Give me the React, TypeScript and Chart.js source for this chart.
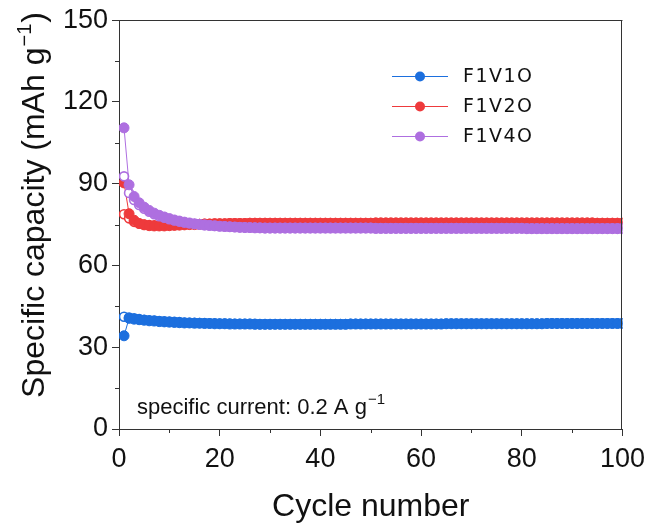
import React, { useEffect, useRef } from "react";
import { Chart, registerables } from "chart.js";

Chart.register(...registerables);

// ---------- DATA ----------
const cycles = Array.from({ length: 100 }, (_, i) => i + 1);

const seriesNames = ["F1V1O", "F1V2O", "F1V4O"];
const seriesColors = ["#1c6fde", "#ee3a3c", "#ae6fe0"];

// filled markers
const f1v1oFilled = [
  34.2, 40.6, 40.3, 40.1, 39.9, 39.7, 39.6, 39.4, 39.3, 39.2,
  39.1, 39.0, 38.9, 38.9, 38.8, 38.8, 38.7, 38.7, 38.6, 38.6,
  38.6, 38.5, 38.5, 38.5, 38.5, 38.5, 38.4, 38.4, 38.4, 38.4,
  38.4, 38.4, 38.4, 38.4, 38.4, 38.4, 38.4, 38.4, 38.4, 38.4,
  38.4, 38.4, 38.4, 38.4, 38.4, 38.5, 38.5, 38.5, 38.5, 38.5,
  38.5, 38.5, 38.5, 38.5, 38.5, 38.5, 38.5, 38.5, 38.5, 38.5,
  38.5, 38.5, 38.5, 38.5, 38.6, 38.6, 38.6, 38.6, 38.6, 38.6,
  38.6, 38.6, 38.6, 38.6, 38.6, 38.6, 38.6, 38.6, 38.6, 38.6,
  38.6, 38.6, 38.6, 38.6, 38.7, 38.7, 38.7, 38.7, 38.7, 38.7,
  38.7, 38.7, 38.7, 38.7, 38.7, 38.7, 38.7, 38.7, 38.7, 38.7,
];
const f1v2oFilled = [
  90.3, 79.0, 76.6, 75.4, 74.9, 74.6, 74.5, 74.5, 74.5, 74.6,
  74.7, 74.8, 74.9, 75.0, 75.0, 75.1, 75.2, 75.2, 75.3, 75.3,
  75.3, 75.4, 75.4, 75.4, 75.4, 75.5, 75.5, 75.5, 75.5, 75.5,
  75.5, 75.5, 75.5, 75.5, 75.5, 75.5, 75.5, 75.5, 75.5, 75.5,
  75.5, 75.5, 75.5, 75.5, 75.5, 75.5, 75.5, 75.5, 75.5, 75.5,
  75.6, 75.6, 75.6, 75.6, 75.6, 75.6, 75.6, 75.6, 75.6, 75.6,
  75.6, 75.6, 75.6, 75.6, 75.6, 75.6, 75.6, 75.6, 75.6, 75.6,
  75.6, 75.6, 75.6, 75.6, 75.6, 75.6, 75.6, 75.6, 75.6, 75.6,
  75.6, 75.6, 75.6, 75.6, 75.6, 75.6, 75.6, 75.6, 75.6, 75.6,
  75.6, 75.6, 75.6, 75.6, 75.5, 75.5, 75.5, 75.5, 75.5, 75.5,
];
const f1v4oFilled = [
  110.5, 89.6, 85.3, 83.0, 81.4, 80.2, 79.2, 78.4, 77.8, 77.2,
  76.7, 76.3, 75.9, 75.6, 75.3, 75.1, 74.9, 74.7, 74.6, 74.4,
  74.3, 74.2, 74.1, 74.0, 73.9, 73.9, 73.8, 73.8, 73.7, 73.7,
  73.7, 73.7, 73.7, 73.7, 73.7, 73.7, 73.7, 73.7, 73.7, 73.7,
  73.7, 73.7, 73.7, 73.7, 73.7, 73.7, 73.7, 73.7, 73.7, 73.7,
  73.6, 73.6, 73.6, 73.6, 73.6, 73.6, 73.6, 73.6, 73.6, 73.6,
  73.6, 73.6, 73.6, 73.6, 73.6, 73.6, 73.6, 73.6, 73.6, 73.6,
  73.6, 73.6, 73.6, 73.6, 73.6, 73.6, 73.6, 73.6, 73.6, 73.6,
  73.5, 73.5, 73.5, 73.5, 73.5, 73.5, 73.5, 73.5, 73.5, 73.5,
  73.5, 73.5, 73.5, 73.5, 73.5, 73.5, 73.5, 73.5, 73.5, 73.5,
];

// open markers
const f1v1oOpen = [
  41.2, 40.9, 40.6, 40.3, 40.1, 39.9, 39.8, 39.6, 39.5, 39.4,
  39.3, 39.2, 39.1, 39.0, 39.0, 38.9, 38.9, 38.8, 38.8, 38.7,
  38.7, 38.7, 38.6, 38.6, 38.6, 38.6, 38.6, 38.5, 38.5, 38.5,
  38.5, 38.5, 38.5, 38.5, 38.5, 38.5, 38.5, 38.5, 38.5, 38.5,
  38.5, 38.5, 38.5, 38.5, 38.5, 38.6, 38.6, 38.6, 38.6, 38.6,
  38.6, 38.6, 38.6, 38.6, 38.6, 38.6, 38.6, 38.6, 38.6, 38.6,
  38.6, 38.6, 38.6, 38.6, 38.7, 38.7, 38.7, 38.7, 38.7, 38.7,
  38.7, 38.7, 38.7, 38.7, 38.7, 38.7, 38.7, 38.7, 38.7, 38.7,
  38.7, 38.7, 38.7, 38.7, 38.8, 38.8, 38.8, 38.8, 38.8, 38.8,
  38.8, 38.8, 38.8, 38.8, 38.8, 38.8, 38.8, 38.8, 38.8, 38.8,
];
const f1v2oOpen = [
  78.8, 77.3, 76.0, 75.4, 75.0, 74.8, 74.7, 74.7, 74.7, 74.8,
  74.9, 75.0, 75.0, 75.1, 75.2, 75.2, 75.3, 75.3, 75.4, 75.4,
  75.4, 75.5, 75.5, 75.5, 75.5, 75.6, 75.6, 75.6, 75.6, 75.6,
  75.6, 75.6, 75.6, 75.6, 75.6, 75.6, 75.6, 75.6, 75.6, 75.6,
  75.6, 75.6, 75.6, 75.6, 75.6, 75.6, 75.6, 75.6, 75.6, 75.6,
  75.7, 75.7, 75.7, 75.7, 75.7, 75.7, 75.7, 75.7, 75.7, 75.7,
  75.7, 75.7, 75.7, 75.7, 75.7, 75.7, 75.7, 75.7, 75.7, 75.7,
  75.7, 75.7, 75.7, 75.7, 75.7, 75.7, 75.7, 75.7, 75.7, 75.7,
  75.7, 75.7, 75.7, 75.7, 75.7, 75.7, 75.7, 75.7, 75.7, 75.7,
  75.7, 75.7, 75.7, 75.7, 75.6, 75.6, 75.6, 75.6, 75.6, 75.6,
];
const f1v4oOpen = [
  92.7, 86.6, 84.0, 82.2, 80.8, 79.7, 78.8, 78.1, 77.5, 77.0,
  76.5, 76.1, 75.8, 75.5, 75.2, 75.0, 74.8, 74.7, 74.5, 74.4,
  74.3, 74.2, 74.1, 74.0, 74.0, 73.9, 73.9, 73.8, 73.8, 73.8,
  73.8, 73.8, 73.8, 73.8, 73.8, 73.8, 73.8, 73.8, 73.8, 73.8,
  73.8, 73.8, 73.8, 73.8, 73.8, 73.8, 73.8, 73.8, 73.8, 73.8,
  73.7, 73.7, 73.7, 73.7, 73.7, 73.7, 73.7, 73.7, 73.7, 73.7,
  73.7, 73.7, 73.7, 73.7, 73.7, 73.7, 73.7, 73.7, 73.7, 73.7,
  73.7, 73.7, 73.7, 73.7, 73.7, 73.7, 73.7, 73.7, 73.7, 73.7,
  73.6, 73.6, 73.6, 73.6, 73.6, 73.6, 73.6, 73.6, 73.6, 73.6,
  73.6, 73.6, 73.6, 73.6, 73.6, 73.6, 73.6, 73.6, 73.6, 73.6,
];

const xMinorTicks = [10, 30, 50, 70, 90];
const yMinorTicks = [15, 45, 75, 105, 135];

const xTitle = "Cycle number";
const yTitleMain = "Specific capacity (mAh g";
const yTitleSup = "\u22121";
const yTitleEnd = ")";
const noteMain = "specific current: 0.2 A g";
const noteSup = "\u22121";

// ---------- STYLE ----------
const FONT = "'Liberation Sans', Arial, sans-serif";
const LEGEND_FONT = "'DejaVu Sans', sans-serif";
const AXIS = "#333333";

const toXY = (vals: number[]) => vals.map((v, i) => ({ x: cycles[i], y: v }));

const decorPlugin = {
  id: "decor",
  afterDraw(chart: any) {
    const { ctx, chartArea: a, scales } = chart;
    const xs = scales.x;
    const ys = scales.y;
    ctx.save();
    ctx.strokeStyle = AXIS;
    ctx.lineWidth = 1;
    // frame (top & right)
    ctx.beginPath();
    ctx.moveTo(a.left, Math.round(a.top) + 0.5);
    ctx.lineTo(a.right, Math.round(a.top) + 0.5);
    ctx.moveTo(Math.round(a.right) - 0.5, a.top);
    ctx.lineTo(Math.round(a.right) - 0.5, a.bottom);
    ctx.stroke();
    // minor ticks
    ctx.beginPath();
    xMinorTicks.forEach((v) => {
      const px = Math.round(xs.getPixelForValue(v)) + 0.5;
      ctx.moveTo(px, a.bottom);
      ctx.lineTo(px, a.bottom + 4);
    });
    yMinorTicks.forEach((v) => {
      const py = Math.round(ys.getPixelForValue(v)) + 0.5;
      ctx.moveTo(a.left, py);
      ctx.lineTo(a.left - 4, py);
    });
    ctx.stroke();

    // legend
    const legX = 392, legW = 56, legTextX = 463;
    const rows = [76, 106, 136];
    ctx.font = `19px ${LEGEND_FONT}`;
    (ctx as any).letterSpacing = "1.5px";
    ctx.textBaseline = "middle";
    ctx.textAlign = "left";
    seriesNames.forEach((name, i) => {
      const yy = rows[i];
      ctx.strokeStyle = seriesColors[i];
      ctx.lineWidth = 1;
      ctx.beginPath();
      ctx.moveTo(legX, yy + 0.5);
      ctx.lineTo(legX + legW, yy + 0.5);
      ctx.stroke();
      ctx.fillStyle = seriesColors[i];
      ctx.beginPath();
      ctx.arc(legX + legW / 2, yy + 0.5, 5, 0, Math.PI * 2);
      ctx.fill();
      ctx.fillStyle = "#111";
      ctx.fillText(name, legTextX, yy + 1);
    });
    (ctx as any).letterSpacing = "0px";

    // note
    ctx.fillStyle = "#111";
    ctx.textBaseline = "alphabetic";
    ctx.font = `22px ${FONT}`;
    ctx.fillText(noteMain, 137, 414);
    const nw = ctx.measureText(noteMain).width;
    ctx.font = `15px ${FONT}`;
    ctx.fillText(noteSup, 137 + nw + 1, 404);

    // x title
    ctx.font = `32px ${FONT}`;
    ctx.textAlign = "center";
    ctx.fillText(xTitle, (a.left + a.right) / 2, 516);

    // y title
    ctx.textAlign = "left";
    ctx.save();
    ctx.translate(44, 205);
    ctx.rotate(-Math.PI / 2);
    ctx.font = `32px ${FONT}`;
    const w1 = ctx.measureText(yTitleMain).width;
    const w3 = ctx.measureText(yTitleEnd).width;
    ctx.font = `20px ${FONT}`;
    const w2 = ctx.measureText(yTitleSup).width;
    const total = w1 + w2 + w3 + 2;
    let cx = -total / 2;
    ctx.font = `32px ${FONT}`;
    ctx.fillText(yTitleMain, cx, 0);
    cx += w1 + 1;
    ctx.font = `20px ${FONT}`;
    ctx.fillText(yTitleSup, cx, -13);
    cx += w2 + 1;
    ctx.font = `32px ${FONT}`;
    ctx.fillText(yTitleEnd, cx, 0);
    ctx.restore();

    ctx.restore();
  },
};

function makeFilled(label: string, vals: number[], color: string, order: number) {
  return {
    label,
    data: toXY(vals),
    borderColor: color,
    backgroundColor: color,
    borderWidth: 1,
    pointRadius: 5,
    pointBorderWidth: 1,
    pointBackgroundColor: color,
    pointBorderColor: color,
    showLine: true,
    clip: 0,
    order,
  };
}
function makeOpen(label: string, vals: number[], color: string, order: number) {
  return {
    label,
    data: toXY(vals),
    borderColor: color,
    backgroundColor: "#ffffff",
    borderWidth: 1,
    pointRadius: 4.5,
    pointBorderWidth: 1.6,
    pointBackgroundColor: "#ffffff",
    pointBorderColor: color,
    showLine: true,
    clip: 0,
    order,
  };
}

export default function App() {
  const ref = useRef<HTMLCanvasElement | null>(null);
  useEffect(() => {
    if (!ref.current) return;
    const chart = new Chart(ref.current, {
      type: "line",
      data: {
        datasets: [
          makeFilled(seriesNames[2], f1v4oFilled, seriesColors[2], 1),
          makeOpen(seriesNames[2] + " open", f1v4oOpen, seriesColors[2], 2),
          makeFilled(seriesNames[1], f1v2oFilled, seriesColors[1], 3),
          makeOpen(seriesNames[1] + " open", f1v2oOpen, seriesColors[1], 4),
          makeFilled(seriesNames[0], f1v1oFilled, seriesColors[0], 5),
          makeOpen(seriesNames[0] + " open", f1v1oOpen, seriesColors[0], 6),
        ] as any,
      },
      options: {
        animation: false,
        responsive: true,
        maintainAspectRatio: false,
        events: [],
        layout: { padding: { left: 0, top: 20, right: 29, bottom: 0 } },
        plugins: {
          legend: { display: false },
          tooltip: { enabled: false },
          title: { display: false },
        },
        scales: {
          x: {
            type: "linear",
            min: 0,
            max: 100,
            ticks: {
              stepSize: 20,
              color: "#111",
              font: { family: FONT, size: 27 },
              padding: 7,
              maxRotation: 0,
            },
            grid: { drawOnChartArea: false, drawTicks: true, tickLength: 7, color: AXIS },
            border: { color: AXIS, width: 1 },
            afterFit: (s: any) => {
              s.height = 95;
            },
          },
          y: {
            type: "linear",
            min: 0,
            max: 150,
            ticks: {
              stepSize: 30,
              color: "#111",
              font: { family: FONT, size: 27 },
              padding: 4,
            },
            grid: { drawOnChartArea: false, drawTicks: true, tickLength: 7, color: AXIS },
            border: { color: AXIS, width: 1 },
            afterFit: (s: any) => {
              s.width = 119;
            },
          },
        },
      } as any,
      plugins: [decorPlugin],
    });
    return () => chart.destroy();
  }, []);
  return (
    <div style={{ position: "fixed", left: 0, top: 0, width: 652, height: 524, background: "#fff" }}>
      <canvas ref={ref} />
    </div>
  );
}
